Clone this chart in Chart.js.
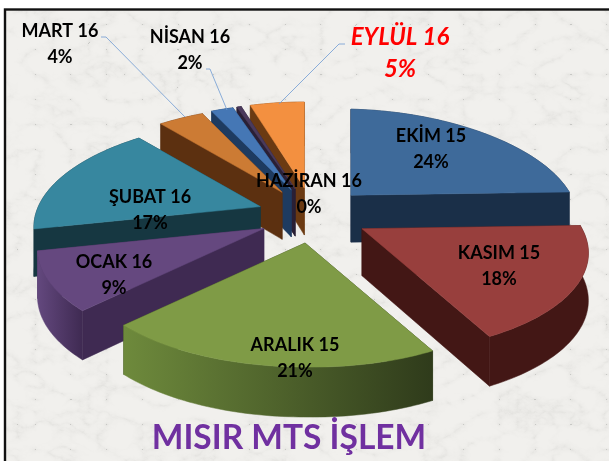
<!DOCTYPE html>
<html lang="tr"><head><meta charset="utf-8">
<style>
html,body{margin:0;padding:0;background:#fff;width:609px;height:461px;overflow:hidden}
#wrap{position:relative;width:609px;height:461px;filter:blur(0.35px)}
#bg{position:absolute;left:0;top:0}
#c{position:absolute;left:0;top:0}
</style></head><body>
<div id="wrap">
<svg id="bg" width="609" height="461" xmlns="http://www.w3.org/2000/svg">
<defs><filter id="marble" x="0" y="0" width="100%" height="100%">
<feTurbulence type="turbulence" baseFrequency="0.028 0.04" numOctaves="5" seed="7"/>
<feColorMatrix type="matrix" values="0 0 0 0 0.35  0 0 0 0 0.35  0 0 0 0 0.33  1.6 0 0 0 -0.02"/>
<feComponentTransfer><feFuncA type="table" tableValues="0.17 0.08 0.03 0.01 0 0 0"/></feComponentTransfer>
</filter></defs>
<rect x="5" y="9.5" width="620" height="470" fill="#f1f0ed"/>
<rect x="5" y="9.5" width="620" height="470" filter="url(#marble)"/>
<rect x="5" y="9.5" width="620" height="470" fill="none" stroke="#111" stroke-width="2.4"/>
</svg>
<canvas id="c" width="609" height="461"></canvas>
</div>
<script src="https://cdn.jsdelivr.net/npm/chart.js@4"></script>
<script>
const categories = ['EKİM 15','KASIM 15','ARALIK 15','OCAK 16','ŞUBAT 16','MART 16','NİSAN 16','HAZİRAN 16','EYLÜL 16'];
const values = [24,18,21,9,17,4,2,0.4,5];
const topColors = ['#3E6A9A','#983F3D','#7F9B46','#65487F','#37879F','#CC7B34','#4577B5','#4A3A5C','#F39040'];
const wallDark = ['#1A2F48','#431715','#2F3B1B','#3F2A52','#163741','#5C3010','#1E3B60','#2A2035','#6B3A12'];
const wallLight = ['#1A2F48','#431715','#6E8A3C','#63487E','#163741','#5C3010','#1E3B60','#2A2035','#6B3A12'];
const labelX = [431,499,295,114,150,60,190,309,400];
const labelY = [136,253,345,262,197,31,37,181,37];
const leaders = [
  {i:5,pts:[[101,37],[106,37],[185,117]]},
  {i:6,pts:[[206,69],[210,69],[227,110]]},
  {i:8,pts:[[345,44],[339,44],[279,104]]}
];
const view = {cx:313,cy:215.5,explodeX:55.6,explodeY:27.8};

function tipOf(m){ return [view.cx+view.explodeX*Math.cos(m), view.cy+view.explodeY*Math.sin(m)]; }
function rimX(s){ return 222+46*s-3*s*s; }
function rimY(s,c){ return 105*s+19*s*s+4*Math.max(c,0); }
function depthAt(s){ return 47+3*s; }
function poly(ctx,pts,fill){
  ctx.beginPath();
  pts.forEach((p,i)=> i?ctx.lineTo(p[0],p[1]):ctx.moveTo(p[0],p[1]));
  ctx.closePath();
  ctx.fillStyle=fill; ctx.fill();
  ctx.strokeStyle=fill; ctx.lineWidth=0.5; ctx.stroke();
}
function drawSlice(ctx,el,i){
  const s=el.startAngle,e=el.endAngle,m=(s+e)/2;
  const t=tipOf(m);
  const at=(a,z)=>{const c=Math.cos(a),n=Math.sin(a);
    return [t[0]+c*rimX(n), t[1]+rimY(n,c)+z*depthAt(n)];};
  const tip=z=>[t[0],t[1]+z*depthAt(0)];
  const n=Math.max(6,Math.ceil((e-s)/0.02));
  const arcT=[],arcB=[];
  for(let k=0;k<=n;k++){const a=s+(e-s)*k/n;arcT.push(at(a,0));arcB.push(at(a,1));}
  const walls=[
    {v:Math.sin(s)/2,pts:[tip(0),at(s,0),at(s,1),tip(1)],fill:wallDark[i]},
    {v:Math.sin(e)/2,pts:[tip(0),at(e,0),at(e,1),tip(1)],fill:wallDark[i]},
  ];
  const xs=arcT.map(p=>p[0]);
  const g=ctx.createLinearGradient(Math.min(...xs),0,Math.max(...xs),0);
  g.addColorStop(0,wallLight[i]); g.addColorStop(1,wallDark[i]);
  walls.push({v:Math.sin(m),pts:arcT.concat(arcB.slice().reverse()),fill:g});
  walls.sort((a,b)=>a.v-b.v).forEach(w=>poly(ctx,w.pts,w.fill));
  poly(ctx,[tip(0)].concat(arcT),topColors[i]);
}
const pie3d = {
  id:'pie3d',
  beforeDatasetDraw(chart,args){
    const ctx=chart.ctx, els=chart.getDatasetMeta(args.index).data;
    const order=els.map((el,i)=>({el,i,k:Math.sin((el.startAngle+el.endAngle)/2)}))
      .sort((a,b)=>a.k-b.k);
    ctx.save();
    order.forEach(o=>drawSlice(ctx,o.el,o.i));
    ctx.restore();
    return false;
  },
  afterDatasetsDraw(chart){
    const ctx=chart.ctx, total=values.reduce((a,b)=>a+b,0);
    ctx.save();
    ctx.lineWidth=0.8; ctx.strokeStyle='#6F9BD3';
    leaders.forEach(l=>{
      ctx.beginPath();
      l.pts.forEach((p,k)=>k?ctx.lineTo(p[0],p[1]):ctx.moveTo(p[0],p[1]));
      ctx.stroke();
    });
    ctx.textAlign='center'; ctx.textBaseline='middle';
    categories.forEach((name,i)=>{
      const red = name.startsWith('EYL');
      ctx.fillStyle = red ? '#FF0000' : '#000000';
      ctx.font = red ? 'italic bold 24px Lato' : 'bold 18px Lato';
      ctx.fillText(name,labelX[i],labelY[i]);
      ctx.fillText(Math.round(values[i]/total*100)+'%',labelX[i],labelY[i]+(red?32:26));
    });
    ctx.restore();
  }
};
new Chart(document.getElementById('c'),{
  type:'pie',
  data:{labels:categories,datasets:[{data:values,backgroundColor:topColors,borderWidth:0}]},
  options:{
    responsive:false,animation:false,
    layout:{padding:{right:31,bottom:0}},
    plugins:{
      legend:{display:false},tooltip:{enabled:false},
      title:{display:true,text:'MISIR MTS İŞLEM',position:'bottom',color:'#7030A0',
        font:{family:'Lato',size:33.5,weight:'bold'},padding:{top:0,bottom:3}}
    }
  },
  plugins:[pie3d]
});
</script>
</body></html>
